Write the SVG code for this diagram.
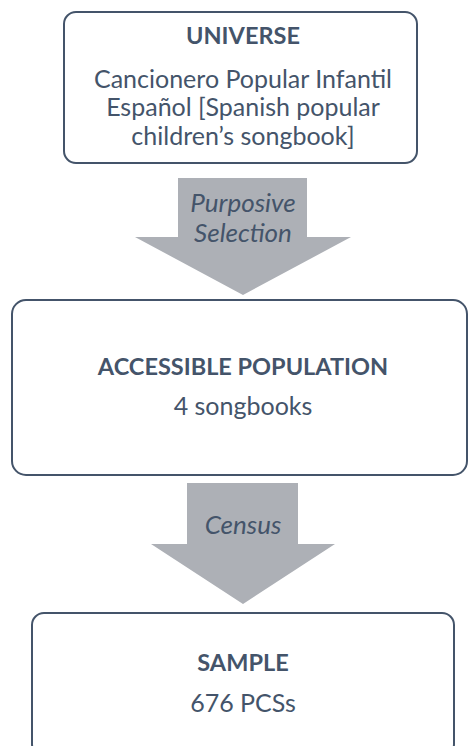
<svg xmlns="http://www.w3.org/2000/svg" width="469" height="746" viewBox="0 0 469 746">
  <style>
    .box { fill: #ffffff; stroke: #44546a; stroke-width: 2; }
    .arrow { fill: #adb0b6; stroke: none; }
    text { font-family: Lato, "Open Sans", sans-serif; fill: #44546a; text-anchor: middle; font-size: 25px; }
    .title { font-weight: bold; font-size: 23.5px; }
    .label { font-style: italic; font-size: 26px; }
  </style>

  <g id="connectors">
    <polygon class="arrow" points="178,178 307,178 307,237 351,237 243,295 135,237 178,237"/>
    <polygon class="arrow" points="187,483 298,483 298,544 335,544 243,604 151,544 187,544"/>
    <text class="label" x="243" y="212">Purposive</text>
    <text class="label" x="243" y="242">Selection</text>
    <text class="label" x="243" y="534">Census</text>
  </g>

  <g id="universe">
    <rect class="box" x="64" y="12" width="353" height="151" rx="12"/>
    <text class="title" x="243" y="44">UNIVERSE</text>
    <text x="243" y="88">Cancionero Popular Infantil</text>
    <text x="243" y="116">Español [Spanish popular</text>
    <text x="243" y="145">children’s songbook]</text>
  </g>

  <g id="accessible-population">
    <rect class="box" x="12" y="300" width="455" height="175" rx="14"/>
    <text class="title" x="243" y="375">ACCESSIBLE POPULATION</text>
    <text x="243" y="415">4 songbooks</text>
  </g>

  <g id="sample">
    <rect class="box" x="32" y="613" width="422" height="143" rx="12"/>
    <text class="title" x="243" y="671">SAMPLE</text>
    <text x="243" y="712">676 PCSs</text>
  </g>
</svg>
